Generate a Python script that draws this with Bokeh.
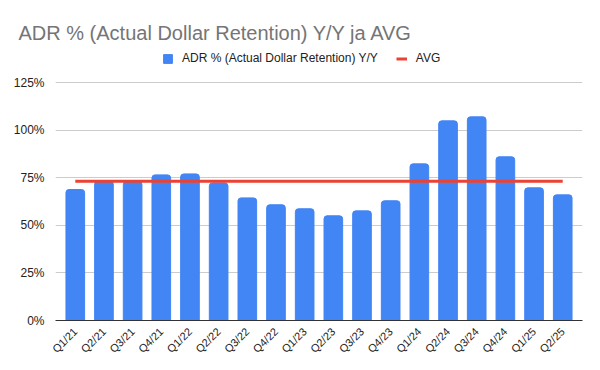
import math
from bokeh.plotting import figure
from bokeh.models import (Range1d, FactorRange, FixedTicker, PrintfTickFormatter, Legend,
                          LegendItem, Title)
from bokeh.embed import file_html
from bokeh.resources import INLINE

quarters = ["Q1/21", "Q2/21", "Q3/21", "Q4/21", "Q1/22", "Q2/22", "Q3/22", "Q4/22",
            "Q1/23", "Q2/23", "Q3/23", "Q4/23", "Q1/24", "Q2/24", "Q3/24", "Q4/24",
            "Q1/25", "Q2/25"]
adr = [68.8, 73.2, 73.0, 76.5, 77.0, 72.3, 64.4, 60.8, 58.7, 55.0, 57.6, 62.9,
       82.3, 104.9, 107.0, 86.0, 69.7, 66.0]
avg_value = 73.1
avg = [avg_value] * len(quarters)
y_ticks = [0, 25, 50, 75, 100, 125]

FONT = "Liberation Sans"

p = figure(frame_width=527, frame_height=276,
           x_range=FactorRange(factors=quarters, range_padding=0.19, range_padding_units="absolute"),
           y_range=Range1d(0, 145),
           output_backend="svg", toolbar_location=None,
           min_border_left=55, min_border_right=10, min_border_top=44, min_border_bottom=10)

p.title = Title(text="ADR % (Actual Dollar Retention) Y/Y ja AVG", text_font=FONT,
                text_font_size="20px", text_font_style="normal", text_color="#757575",
                align="left", offset=-37, standoff=1)

bars = p.vbar(x=quarters, top=adr, width=0.65, color="#4285F4", border_radius=[3, 3, 0, 0])
line = p.line(x=quarters, y=avg, line_color="#EA4335", line_width=3)

legend = Legend(items=[LegendItem(label="ADR % (Actual Dollar Retention) Y/Y", renderers=[bars]),
                       LegendItem(label="AVG", renderers=[line])],
                orientation="horizontal", location=(107, 255),
                label_text_font=FONT, label_text_font_size="12px", label_text_color="#222222",
                border_line_alpha=0, background_fill_alpha=0,
                glyph_width=11, glyph_height=11, label_standoff=9, spacing=18,
                padding=0, margin=0)
p.add_layout(legend, "center")

p.outline_line_color = None
p.xgrid.grid_line_color = None
p.ygrid.grid_line_color = "#cccccc"
p.ygrid.ticker = FixedTicker(ticks=y_ticks)

p.yaxis.ticker = FixedTicker(ticks=y_ticks)
p.yaxis.formatter = PrintfTickFormatter(format="%d%%")
p.yaxis.axis_line_color = None
p.yaxis.major_tick_line_color = None
p.yaxis.minor_tick_line_color = None
p.yaxis.major_label_text_font = FONT
p.yaxis.major_label_text_font_size = "12px"
p.yaxis.major_label_text_color = "#222222"

p.xaxis.axis_line_color = "#333333"
p.xaxis.major_tick_line_color = None
p.xaxis.minor_tick_line_color = None
p.xaxis.major_label_orientation = math.pi / 4
p.xaxis.major_label_standoff = 3
p.xaxis.major_label_text_font = FONT
p.xaxis.major_label_text_font_size = "11px"
p.xaxis.major_label_text_color = "#222222"

open("out.html", "w").write(file_html(p, INLINE))
